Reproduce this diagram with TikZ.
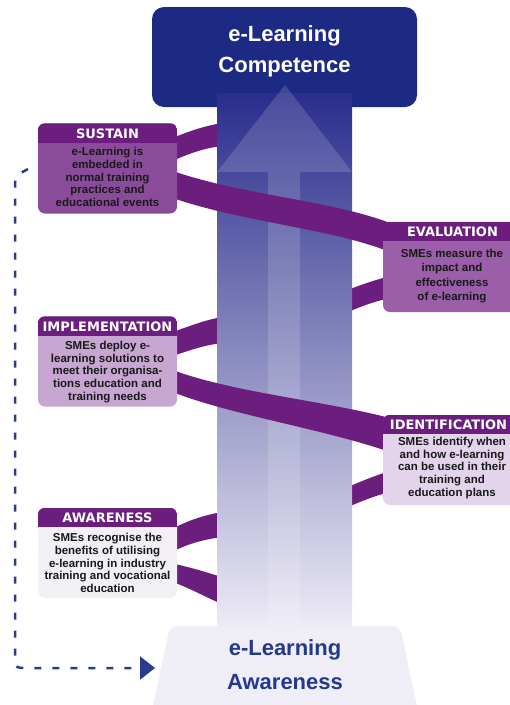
\documentclass[tikz,border=0pt]{standalone}
\usepackage{fontspec}
\setmainfont{Liberation Sans}
\newfontfamily\hdrfont{DejaVu Sans}
\usetikzlibrary{arrows.meta}
\definecolor{navy}{HTML}{1C2A84}
\definecolor{plum}{HTML}{6B1E7D}
\definecolor{coltop}{HTML}{2A2E8C}
\definecolor{colmid}{HTML}{8A7EBB}
\definecolor{colbot}{HTML}{EEECF6}
\definecolor{lav}{HTML}{EFEEF7}
\definecolor{dashblue}{HTML}{283D8E}
\definecolor{sustainc}{HTML}{8B4B9B}
\definecolor{evalc}{HTML}{9B5EA9}
\definecolor{implc}{HTML}{C7A6D2}
\definecolor{identc}{HTML}{E3D3EB}
\definecolor{awarec}{HTML}{F2EFF5}
\tikzset{
  box/.style={rounded corners=7pt, minimum width=139pt, minimum height=90pt, inner sep=0pt},
  hdrtxt/.style={text=white, font=\hdrfont\bfseries\fontsize{13}{15}\selectfont, inner sep=0pt},
  bodytxt/.style={align=center, font=\bfseries\fontsize{11.5}{12.7}\selectfont, inner sep=0pt, text=black!90},
  ribbon/.style={fill=plum},
  title/.style={align=center, font=\bfseries\fontsize{22}{31}\selectfont, inner sep=0pt},
  dashline/.style={draw=dashblue, line width=2.5pt, dash pattern=on 7pt off 11pt, -{Triangle[length=15pt,width=23pt]}}
}
\begin{document}
\begin{tikzpicture}[x=1pt,y=-1pt]
    \useasboundingbox (0,0) rectangle (510,705);
    % caja de arriba
    \node[fill=navy, rounded corners=12pt, minimum width=265pt, minimum height=100pt, inner sep=0pt] (comp) at (284.5,57) {};
    \node[title, text=white] (comp-t) at (284.5,51) {e-Learning\\Competence};
    % cintas de atras
    \fill[ribbon] (170,139) .. controls (192,130) and (205,126) .. (222,123) -- (222,146) .. controls (205,148) and (190,153) .. (170,162) -- cycle;
    \fill[ribbon] (348,290) .. controls (360,285) and (372,281) .. (390,276) -- (390,298) .. controls (372,302) and (360,307) .. (348,312) -- cycle;
    \fill[ribbon] (170,333) .. controls (190,326) and (205,320) .. (222,317) -- (222,343) .. controls (205,345) and (190,350) .. (170,357) -- cycle;
    \fill[ribbon] (348,487) .. controls (362,481) and (374,476) .. (390,471) -- (390,492) .. controls (374,496) and (362,501) .. (348,507) -- cycle;
    \fill[ribbon] (170,530) .. controls (185,522) and (200,516) .. (222,512) -- (222,537) .. controls (200,540) and (185,545) .. (170,553) -- cycle;
    \fill[ribbon] (170,563) .. controls (190,567) and (205,572) .. (222,577) -- (222,604) .. controls (205,597) and (190,588) .. (170,581) -- cycle;
    % columna y flecha
    \shade[top color=coltop, middle color=colmid, bottom color=colbot] (217,93) rectangle (352,630);
    \fill[white, opacity=0.15] (285,85) -- (352,172) -- (300,172) -- (300,630) -- (268,630) -- (268,172) -- (217,172) -- cycle;
    % cintas de adelante
    \fill[ribbon] (170,170) .. controls (240,195) and (330,200) .. (390,223) -- (390,252) .. controls (330,228) and (240,222) .. (170,197) -- cycle;
    \fill[ribbon] (170,369) .. controls (230,392) and (320,400) .. (390,418) -- (390,452) .. controls (320,428) and (230,415) .. (170,391) -- cycle;
    % cajas
    \node[box, fill=sustainc] (sustain) at (107.5,168.5) {};
    \node[box, fill=evalc] (evaluation) at (452.5,267) {};
    \node[box, fill=implc] (implementation) at (107.5,361.5) {};
    \node[box, fill=identc] (identification) at (452.5,460) {};
    \node[box, fill=awarec] (awareness) at (107.5,553) {};
    \foreach \b in {sustain,evaluation,implementation,identification,awareness}{
      \begin{scope}
        \clip[rounded corners=7pt] (\b.south west) rectangle (\b.north east);
        \fill[plum] (\b.north west) rectangle ([yshift=-19.5pt]\b.north east);
      \end{scope}
    }
    \node[hdrtxt] (sustain-h) at ([yshift=-10pt]sustain.north) {SUSTAIN};
    \node[hdrtxt] (evaluation-h) at ([yshift=-10pt]evaluation.north) {EVALUATION};
    \node[hdrtxt] (implementation-h) at ([yshift=-10pt]implementation.north) {IMPLEMENTATION};
    \node[hdrtxt] (identification-h) at ([xshift=-4pt,yshift=-10pt]identification.north) {IDENTIFICATION};
    \node[hdrtxt] (awareness-h) at ([yshift=-10pt]awareness.north) {AWARENESS};
    \node[bodytxt] (sustain-t) at (107.5,177) {e-Learning is\\embedded in\\normal training\\practices and\\educational events};
    \node[bodytxt, font=\bfseries\fontsize{11.5}{14.5}\selectfont] (evaluation-t) at (452,276) {SMEs measure the\\impact and\\effectiveness\\of e-learning};
    \node[bodytxt] (implementation-t) at (107.5,372) {SMEs deploy e-\\learning solutions to\\meet their organisa-\\tions education and\\training needs};
    \node[bodytxt] (identification-t) at (452,468) {SMEs identify when\\and how e-learning\\can be used in their\\training and\\education plans};
    \node[bodytxt] (awareness-t) at (107.5,563) {SMEs recognise the\\benefits of utilising\\e-learning in industry\\training and vocational\\education};
    % base de abajo
    \fill[lav, rounded corners=8pt] (170,626) -- (400,626) -- (420,720) -- (150,720) -- cycle;
    \node[title, text=dashblue!80!navy, font=\bfseries\fontsize{22}{34}\selectfont] (aware-t) at (285,665) {e-Learning\\Awareness};
    % flecha punteada
    \coordinate (loop-a) at (28,169);
    \coordinate (loop-b) at (155,668);
    \draw[dashline] (loop-a) .. controls (15,176) .. (15,190) -- (15,655) .. controls (15,668) .. (28,668) -- (loop-b);
\end{tikzpicture}
\end{document}
